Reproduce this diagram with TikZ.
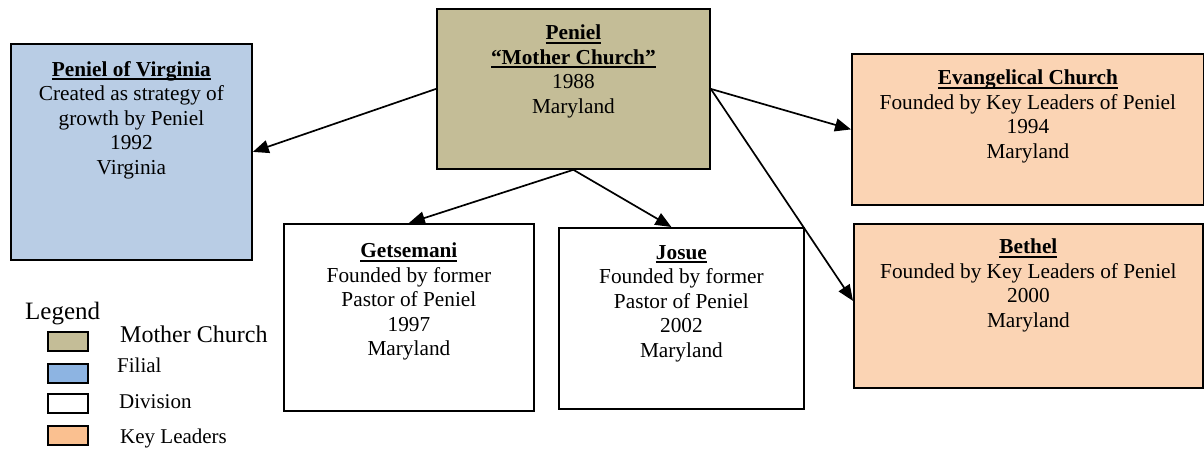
\documentclass[tikz,border=0pt]{standalone}
\usepackage{fontspec}
\setmainfont{Liberation Serif}
\usetikzlibrary{arrows.meta}
\definecolor{tanfill}{HTML}{C4BD97}
\definecolor{lightblue}{HTML}{B9CDE5}
\definecolor{legblue}{HTML}{8DB4E2}
\definecolor{peach}{HTML}{FBD4B4}
\definecolor{legorange}{HTML}{FAC090}
\newcommand\myul[1]{\setbox0\hbox{#1}\rlap{\rule[-4pt]{\wd0}{2.2pt}}\box0}
\begin{document}
\begin{tikzpicture}[x=1pt,y=-1pt,
  box/.style={draw=black,line width=1.8pt,inner sep=0,anchor=north west},
  txt/.style={anchor=north,inner sep=0,align=center,font=\fontsize{21.3}{24.5}\selectfont},
  arr/.style={line width=1.7pt,-{Triangle[length=16pt,width=13pt]}},
  sw/.style={draw=black,line width=1.6pt,minimum width=40pt,minimum height=19pt,inner sep=0,anchor=north west},
  legtxt/.style={anchor=base west,inner sep=0,font=\fontsize{21}{24}\selectfont}
]
\useasboundingbox (0,0) rectangle (1204,448);

% boxes
\node[box,fill=tanfill,minimum width=273pt,minimum height=160pt] (mother) at (436,8) {};
\node[box,fill=lightblue,minimum width=241pt,minimum height=216pt] (virginia) at (10,43) {};
\node[box,fill=peach,minimum width=352pt,minimum height=151pt] (evangelical) at (851,53) {};
\node[box,fill=peach,minimum width=349pt,minimum height=164pt] (bethel) at (853,223) {};
\node[box,fill=white,minimum width=250pt,minimum height=187pt] (getsemani) at (283,223) {};
\node[box,fill=white,minimum width=245pt,minimum height=181pt] (josue) at (558,227) {};

% box texts
\node[txt] (tmother) at ([yshift=-17pt]mother.north) {\textbf{\myul{Peniel}}\\\textbf{\myul{``Mother Church''}}\\1988\\Maryland};
\node[txt] (tvirginia) at ([yshift=-18pt]virginia.north) {\textbf{\myul{Peniel of Virginia}}\\Created as strategy of\\growth by Peniel\\1992\\Virginia};
\node[txt] (tevangelical) at ([yshift=-17pt]evangelical.north) {\textbf{\myul{Evangelical Church}}\\Founded by Key Leaders of Peniel\\1994\\Maryland};
\node[txt] (tbethel) at ([yshift=-16pt]bethel.north) {\textbf{\myul{Bethel}}\\Founded by Key Leaders of Peniel\\2000\\Maryland};
\node[txt] (tgetsemani) at ([yshift=-20pt]getsemani.north) {\textbf{\myul{Getsemani}}\\Founded by former\\Pastor of Peniel\\1997\\Maryland};
\node[txt] (tjosue) at ([yshift=-18pt]josue.north) {\textbf{\myul{Josue}}\\Founded by former\\Pastor of Peniel\\2002\\Maryland};

% connectors
\draw[arr] (mother.west) -- (virginia.east);
\draw[arr] (mother.south) -- (getsemani.north);
\draw[arr] (mother.south) -- ([xshift=-10pt]josue.north);
\draw[arr] (mother.east) -- (evangelical.west);
\draw[arr] (mother.east) -- ([yshift=5pt]bethel.west);

% legend
\node[anchor=base west,inner sep=0,font=\fontsize{25}{30}\selectfont] (legend) at (25,319) {Legend};
\node[sw,fill=tanfill] (s1) at (47,331) {};
\node[sw,fill=legblue] (s2) at (47,363) {};
\node[sw,fill=white] (s3) at (47,393) {};
\node[sw,fill=legorange] (s4) at (47,425) {};
\node[legtxt,font=\fontsize{24}{28}\selectfont] (l1) at (120,342) {Mother Church};
\node[legtxt] (l2) at (117,372) {Filial};
\node[legtxt] (l3) at (119,408) {Division};
\node[legtxt] (l4) at (120,443) {Key Leaders};
\end{tikzpicture}
\end{document}
